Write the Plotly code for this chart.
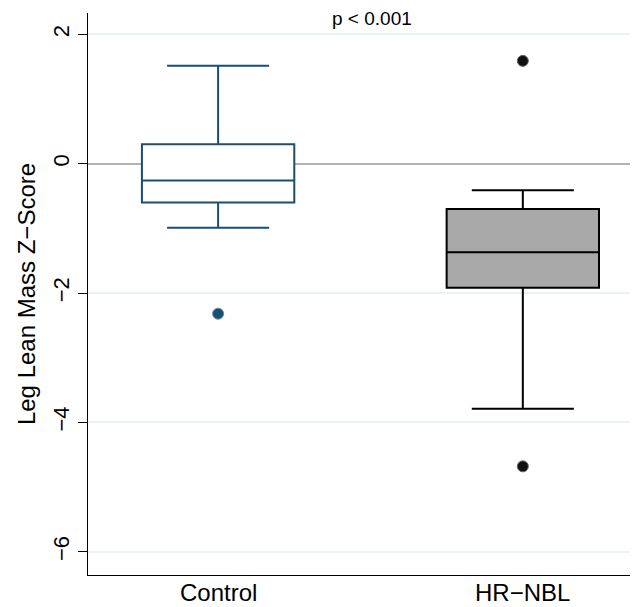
import plotly.graph_objects as go

categories = ["Control", "HR\u2212NBL"]
q1 = [-0.60, -1.92]
median = [-0.26, -1.37]
q3 = [0.30, -0.70]
lowerfence = [-0.99, -3.79]
upperfence = [1.515, -0.41]
control_outliers = [-2.32]
hrnbl_outliers = [1.59, -4.68]

line_colors = ["#1b4f72", "#000000"]
fill_colors = ["#ffffff", "#a9a9a9"]

fig = go.Figure()
for i, cat in enumerate(categories):
    fig.add_trace(go.Box(
        x=[cat], q1=[q1[i]], median=[median[i]], q3=[q3[i]],
        lowerfence=[lowerfence[i]], upperfence=[upperfence[i]],
        width=0.5, whiskerwidth=0.67,
        line=dict(color=line_colors[i], width=2),
        fillcolor=fill_colors[i], boxpoints=False, showlegend=False,
    ))

fig.add_trace(go.Scatter(
    x=[categories[0]] * len(control_outliers), y=control_outliers, mode="markers",
    marker=dict(size=11, color="#1b4f72", line=dict(color="#5d8db0", width=1)),
    showlegend=False))
fig.add_trace(go.Scatter(
    x=[categories[1]] * len(hrnbl_outliers), y=hrnbl_outliers, mode="markers",
    marker=dict(size=11, color="#111111", line=dict(color="#666666", width=1)),
    showlegend=False))

fig.add_annotation(x=0.505, y=2.25, xref="x", yref="y", text="p < 0.001",
                   showarrow=False, font=dict(size=19, color="#000000"))

# category labels under the axis
for cat in categories:
    fig.add_annotation(x=cat, y=0, xref="x", yref="paper", text=cat,
                       showarrow=False, yanchor="top", yshift=-2,
                       font=dict(size=24, color="#000000"))

# page body has an 8px margin: compensate so the plot area lands at x 88..638, y 13..575
fig.update_layout(
    width=630, height=599,
    margin=dict(l=80, r=0, t=5, b=32, autoexpand=False),
    paper_bgcolor="white", plot_bgcolor="white",
    font=dict(family="Liberation Sans, Arial, sans-serif", color="#000000"),
    xaxis=dict(type="category", categoryorder="array", categoryarray=categories,
               range=[-0.427, 1.378], showline=True, linecolor="#000000", linewidth=1.2,
               ticks="", showgrid=False, zeroline=False, automargin=False,
               showticklabels=False),
    yaxis=dict(range=[-6.36, 2.33], tickvals=[-6, -4, -2, 0, 2],
               showline=True, linecolor="#000000", linewidth=1.2,
               ticks="outside", ticklen=9, tickwidth=1.2, tickcolor="#000000",
               tickangle=-90, tickfont=dict(size=22), automargin=False,
               showgrid=True, gridcolor="#eaf2f4", gridwidth=1.5,
               zeroline=True, zerolinecolor="#b3b3b3", zerolinewidth=2,
               title=dict(text="Leg Lean Mass Z\u2212Score", font=dict(size=24), standoff=6)),
)

fig.write_html("out.html")
